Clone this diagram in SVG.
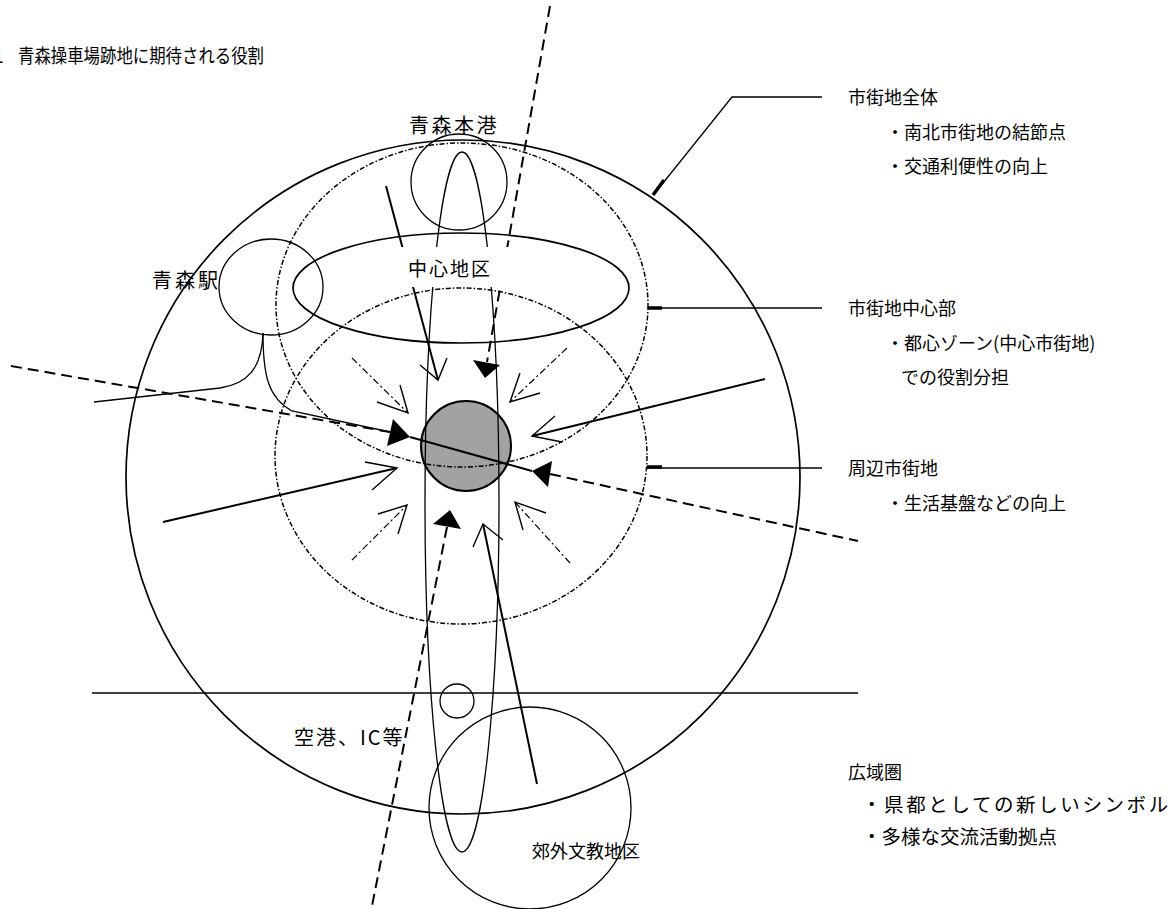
<svg xmlns="http://www.w3.org/2000/svg" width="1173" height="909" viewBox="0 0 1173 909">
<style>
.t{font-family:"Noto Sans CJK JP","Noto Sans CJK SC",sans-serif;font-size:20px;letter-spacing:3px;fill:#000}
.r{font-family:"Noto Sans CJK JP","Noto Sans CJK SC",sans-serif;font-size:18px;fill:#000}
.ttl{font-family:"Noto Sans CJK JP","Noto Sans CJK SC",sans-serif;font-size:19.5px;fill:#000}
.ln{fill:none;stroke:#000;stroke-width:1.3}
.bg{fill:none;stroke:#000;stroke-width:1.7}
.dd{fill:none;stroke:#000;stroke-width:1.5;stroke-dasharray:5 2 1.5 2}
.ds{fill:none;stroke:#000;stroke-width:2;stroke-dasharray:11 6}
.sh{fill:none;stroke:#000;stroke-width:2}
.da{fill:none;stroke:#000;stroke-width:1.2;stroke-dasharray:7 3 2 3}
.hd{fill:#000;stroke:none}
.v{fill:none;stroke:#000;stroke-width:1.4}
.tk{fill:none;stroke:#000;stroke-width:3.5}
</style>
<rect width="1173" height="909" fill="#fff"/>

<g id="title">
<text class="ttl" x="-7" y="63">1</text>
<text class="ttl" x="18" y="63" textLength="246" lengthAdjust="spacingAndGlyphs">青森操車場跡地に期待される役割</text>
</g>

<g id="core"><circle cx="466" cy="446" r="45" fill="#a2a2a2" stroke="#000" stroke-width="2"/></g>
<g id="city-whole"><circle cx="463" cy="477" r="337" class="bg"/></g>
<g id="city-center-zone"><ellipse cx="462" cy="305" rx="186" ry="162" class="dd"/></g>
<g id="surrounding-zone"><ellipse cx="461" cy="456" rx="186" ry="168" class="dd"/></g>
<g id="central-district-ring"><ellipse cx="461" cy="288" rx="168" ry="55" class="bg"/></g>
<g id="port"><circle cx="459" cy="182" r="48" class="ln"/><text class="t" style="letter-spacing:2.5px" x="409" y="133">青森本港</text></g>
<g id="station"><ellipse cx="271" cy="287" rx="52" ry="48" class="ln"/><text class="t" x="152" y="288">青森駅</text></g>
<g id="axis"><ellipse cx="462" cy="502" rx="37" ry="350" class="ln"/></g>
<g id="small-node"><circle cx="457" cy="701" r="17" class="ln"/></g>
<g id="campus"><circle cx="530" cy="808" r="101" class="ln"/><text class="r" x="532" y="858">郊外文教地区</text></g>
<g id="airport"><text class="t" style="letter-spacing:2px" x="294" y="745">空港、IC等</text></g>
<g id="boundary"><line x1="92" y1="693" x2="858" y2="693" class="ln"/></g>

<g id="connectors">
<line x1="550" y1="6" x2="487" y2="362" class="ds"/>
<polygon class="hd" points="473,360 500,365 485,378"/>
<line x1="447" y1="527" x2="372" y2="906" class="ds"/>
<polygon class="hd" points="433,524 461,529 450,510"/>
<line x1="11" y1="366" x2="390" y2="432" class="ds"/>
<polygon class="hd" points="393,419 387,446 410,437"/>
<line x1="410" y1="437" x2="532" y2="471" class="sh"/>
<line x1="550" y1="474" x2="858" y2="541" class="ds"/>
<polygon class="hd" points="552,461 548,487 532,471"/>
<path class="ln" d="M263,333 C263,375 268,398 292,411 L390,432"/>
<path class="ln" d="M263,333 C262,370 246,384 220,388 L94,402"/>
<line x1="386" y1="186" x2="438" y2="380" class="sh"/>
<polyline class="v" points="420,365 438,380 447,358"/>
<line x1="765" y1="379" x2="532" y2="436" class="sh"/>
<polyline class="v" points="555,416 532,436 562,442"/>
<line x1="163" y1="522" x2="397" y2="468" class="sh"/>
<polyline class="v" points="365,462 397,468 372,490"/>
<line x1="537" y1="784" x2="483" y2="524" class="sh"/>
<polyline class="v" points="473,547 483,524 503,540"/>
<line x1="352" y1="358" x2="408" y2="413" class="da"/>
<polyline class="v" points="377,402 408,413 400,385"/>
<line x1="567" y1="348" x2="510" y2="402" class="da"/>
<polyline class="v" points="540,393 510,402 520,373"/>
<line x1="352" y1="560" x2="407" y2="505" class="da"/>
<polyline class="v" points="378,514 407,505 398,534"/>
<line x1="570" y1="563" x2="515" y2="502" class="da"/>
<polyline class="v" points="546,513 515,502 523,530"/>
<polyline class="ln" points="655,193 732,97 822,97"/>
<line class="tk" x1="653" y1="195" x2="664" y2="180"/>
<line class="ln" x1="648" y1="308" x2="822" y2="308"/>
<line class="tk" x1="648" y1="308" x2="662" y2="308"/>
<line class="ln" x1="647" y1="468" x2="822" y2="468"/>
<line class="tk" x1="647" y1="467" x2="662" y2="467"/>
</g>

<g id="central-district-label">
<rect x="396" y="247" width="119" height="40" fill="#fff"/>
<text class="t" style="font-size:19px;letter-spacing:2px" x="408" y="276">中心地区</text>
</g>

<g id="label-city-whole">
<text class="r" x="848" y="104">市街地全体</text>
<text class="r" x="886" y="139">・南北市街地の結節点</text>
<text class="r" x="886" y="173">・交通利便性の向上</text>
</g>
<g id="label-city-center">
<text class="r" x="848" y="315">市街地中心部</text>
<text class="r" x="886" y="350">・都心ゾーン(中心市街地)</text>
<text class="r" x="901" y="384">での役割分担</text>
</g>
<g id="label-surrounding">
<text class="r" x="848" y="475">周辺市街地</text>
<text class="r" x="886" y="510">・生活基盤などの向上</text>
</g>
<g id="label-wide-area">
<text class="r" x="848" y="779">広域圏</text>
<text class="r" style="font-size:19.5px;letter-spacing:2.6px" x="862" y="812">・県都としての新しいシンボル</text>
<text class="r" style="font-size:19.5px" x="862" y="844">・多様な交流活動拠点</text>
</g>
</svg>
